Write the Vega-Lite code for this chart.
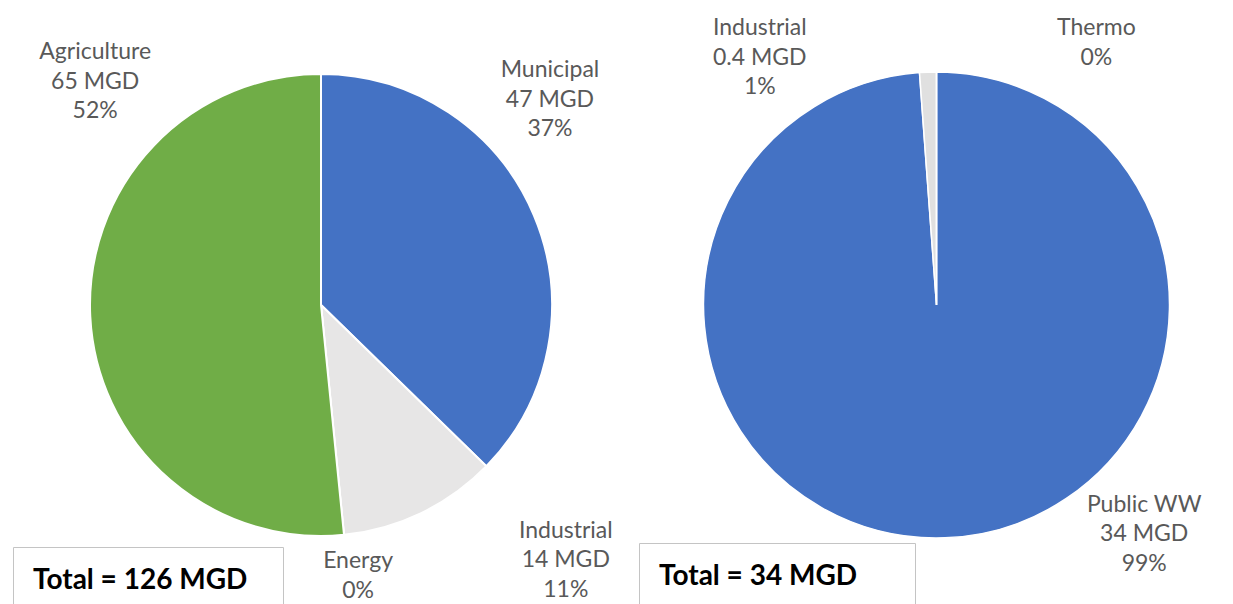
{
  "$schema": "https://vega.github.io/schema/vega-lite/v6.json",
  "background": "white",
  "padding": {"left": 12, "top": 6, "right": 0, "bottom": 0},
  "spacing": 8,
  "config": {
    "view": {"stroke": "#e2e2e2", "strokeWidth": 1.5},
    "font": "Lato",
    "text": {"font": "Lato", "fontSize": 23, "color": "#595959", "lineHeight": 29.5, "align": "center", "baseline": "middle", "lineBreak": "\n"},
    "legend": {
      "strokeColor": "#c4c4c4", "fillColor": "white", "padding": 20,
      "titleFont": "Lato", "titleFontSize": 28, "titleFontWeight": "bold", "titleColor": "#000000",
      "titlePadding": -10, "titleLimit": 500,
      "columns": 2, "rowPadding": 0,
      "symbolType": "circle", "symbolSize": 1, "symbolOpacity": 0, "symbolStrokeWidth": 0,
      "labelOffset": 0, "labelOpacity": 0, "labelFontSize": 1, "labelExpr": "''"
    }
  },
  "resolve": {"scale": {"color": "independent", "theta": "independent"}, "legend": {"color": "independent"}},
  "hconcat": [
    {
      "width": 618,
      "height": 598,
      "data": {"values": [
        {"category": "Municipal", "mgd": 47, "k": 1, "label": "Municipal\n47 MGD\n37%"},
        {"category": "Industrial", "mgd": 14, "k": 2, "label": "Industrial\n14 MGD\n11%"},
        {"category": "Energy", "mgd": 0, "k": 3, "label": "Energy\n0%"},
        {"category": "Agriculture", "mgd": 65, "k": 4, "label": "Agriculture\n65 MGD\n52%"}
      ]},
      "transform": [{"stack": "mgd", "groupby": [], "sort": [{"field": "k", "order": "ascending"}], "as": ["s0", "s1"]}],
      "layer": [
        {
          "mark": {"type": "arc", "radius": 231, "stroke": "white", "strokeWidth": 2},
          "encoding": {
            "theta": {"field": "s0", "type": "quantitative"},
            "theta2": {"field": "s1"},
            "color": {
              "field": "category", "type": "nominal",
              "scale": {"domain": ["Municipal", "Industrial", "Energy", "Agriculture"], "range": ["#4472C4", "#E7E6E6", "#A5A5A5", "#70AD47"]},
              "legend": {
                "title": "Total = 126 MGD",
                "values": ["Municipal", "Agriculture"],
                "columnPadding": 218,
                "orient": "none", "legendX": 1, "legendY": 541
              }
            }
          }
        },
        {
          "transform": [{"filter": "datum.category === 'Municipal'"}],
          "mark": {"type": "text", "radius": 328, "thetaOffset": -1.571},
          "encoding": {"theta": {"field": "s1", "type": "quantitative", "stack": null}, "text": {"field": "label"}}
        },
        {
          "transform": [{"filter": "datum.category === 'Industrial'"}],
          "mark": {"type": "text", "radius": 333, "thetaOffset": -0.726},
          "encoding": {"theta": {"field": "s1", "type": "quantitative", "stack": null}, "text": {"field": "label"}}
        },
        {
          "transform": [{"filter": "datum.category === 'Energy'"}],
          "mark": {"type": "text", "radius": 259, "thetaOffset": -0.044},
          "encoding": {"theta": {"field": "s1", "type": "quantitative", "stack": null}, "text": {"field": "label"}}
        },
        {
          "transform": [{"filter": "datum.category === 'Agriculture'"}],
          "mark": {"type": "text", "radius": 339, "thetaOffset": -0.729},
          "encoding": {"theta": {"field": "s1", "type": "quantitative", "stack": null}, "text": {"field": "label"}}
        }
      ]
    },
    {
      "width": 595,
      "height": 598,
      "data": {"values": [
        {"category": "Public WW", "mgd": 34, "k": 1, "label": "Public WW\n34 MGD\n99%"},
        {"category": "Industrial", "mgd": 0.4, "k": 2, "label": "Industrial\n0.4 MGD\n1%"},
        {"category": "Thermo", "mgd": 0, "k": 3, "label": "Thermo\n0%"}
      ]},
      "transform": [{"stack": "mgd", "groupby": [], "sort": [{"field": "k", "order": "ascending"}], "as": ["s0", "s1"]}],
      "layer": [
        {
          "mark": {"type": "arc", "radius": 233, "stroke": "white", "strokeWidth": 1.5},
          "encoding": {
            "theta": {"field": "s0", "type": "quantitative"},
            "theta2": {"field": "s1"},
            "color": {
              "field": "category", "type": "nominal",
              "scale": {"domain": ["Public WW", "Industrial", "Thermo"], "range": ["#4472C4", "#E0E0E0", "#A5A5A5"]},
              "legend": {
                "title": "Total = 34 MGD",
                "values": ["Public WW", "Industrial"],
                "columnPadding": 224,
                "orient": "none", "legendX": 0, "legendY": 537
              }
            }
          }
        },
        {
          "transform": [{"filter": "datum.category === 'Public WW'"}],
          "mark": {"type": "text", "radius": 288, "thetaOffset": -3.874},
          "encoding": {"theta": {"field": "s1", "type": "quantitative", "stack": null}, "text": {"field": "label"}}
        },
        {
          "transform": [{"filter": "datum.category === 'Industrial'"}],
          "mark": {"type": "text", "radius": 328.5, "thetaOffset": -0.568},
          "encoding": {"theta": {"field": "s1", "type": "quantitative", "stack": null}, "text": {"field": "label"}}
        },
        {
          "transform": [{"filter": "datum.category === 'Thermo'"}],
          "mark": {"type": "text", "radius": 319.5, "thetaOffset": 0.524},
          "encoding": {"theta": {"field": "s1", "type": "quantitative", "stack": null}, "text": {"field": "label"}}
        }
      ]
    }
  ]
}
